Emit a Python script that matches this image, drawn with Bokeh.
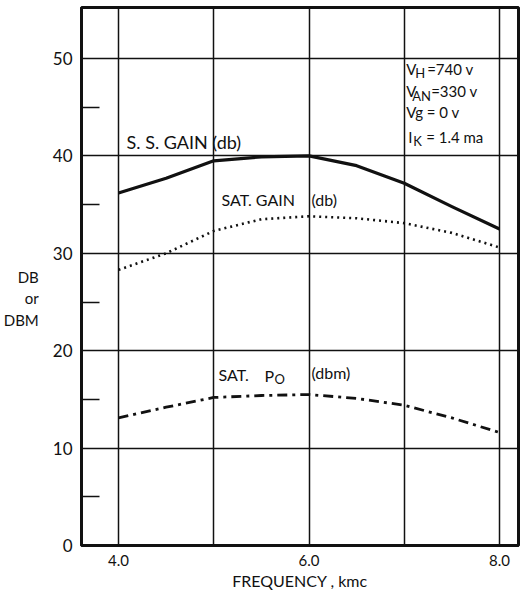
from bokeh.plotting import figure
from bokeh.models import FixedTicker, Range1d, Label
from bokeh.embed import file_html
from bokeh.resources import INLINE

# ---- data ----
freq = [4.0, 4.5, 5.0, 5.5, 6.0, 6.5, 7.0, 7.5, 8.0]
ss_gain = [36.2, 37.7, 39.5, 39.9, 40.0, 39.0, 37.2, 34.8, 32.5]
sat_gain = [28.3, 30.0, 32.3, 33.5, 33.8, 33.6, 33.1, 32.1, 30.6]
sat_po = [13.1, 14.2, 15.2, 15.4, 15.5, 15.1, 14.4, 13.1, 11.6]

x_ticks = [4.0, 6.0, 8.0]
x_tick_labels = ["4.0", "6.0", "8.0"]
x_grid = [4, 5, 6, 7, 8]
y_ticks = [0, 10, 20, 30, 40, 50]
y_tick_labels = ["0", "10", "20", "30", "40", "50"]
y_grid = [10, 20, 30, 40, 50]
y_minor = [5, 15, 25, 35, 45]

FONT = "Lato"
INK = "#111111"

p = figure(frame_width=437, frame_height=538,
           x_range=Range1d(3.6115, 8.1995), y_range=Range1d(0, 55.24),
           output_backend="svg", toolbar_location=None,
           min_border_left=80, min_border_right=3, min_border_top=7,
           min_border_bottom=49)
p.background_fill_color = "white"
p.border_fill_color = "white"
p.outline_line_color = INK
p.outline_line_width = 3

# grids
p.xgrid.ticker = FixedTicker(ticks=x_grid)
p.ygrid.ticker = FixedTicker(ticks=y_grid)
for g in (p.xgrid, p.ygrid):
    g.grid_line_color = INK
    g.grid_line_width = 1.5
    g.grid_line_alpha = 1.0

# x axis
xa = p.xaxis[0]
xa.ticker = FixedTicker(ticks=x_ticks)
xa.major_label_overrides = {t: l for t, l in zip(x_ticks, x_tick_labels)}
xa.major_tick_in = 0
xa.major_tick_out = 0
xa.minor_tick_line_color = None
xa.axis_line_width = 3
xa.axis_line_color = INK
xa.major_label_standoff = 9
xa.major_label_text_font = FONT
xa.major_label_text_font_size = "15px"
xa.major_label_text_color = INK
xa.axis_label = "FREQUENCY , kmc"
xa.axis_label_text_font = FONT
xa.axis_label_text_font_style = "normal"
xa.axis_label_text_font_size = "16px"
xa.axis_label_text_color = INK
xa.axis_label_standoff = 2

# y axis
ya = p.yaxis[0]
ya.ticker = FixedTicker(ticks=y_ticks, minor_ticks=y_minor)
ya.major_label_overrides = {t: l for t, l in zip(y_ticks, y_tick_labels)}
ya.major_tick_in = 0
ya.major_tick_out = 0
ya.minor_tick_in = 18
ya.minor_tick_out = 0
ya.minor_tick_line_width = 1.5
ya.minor_tick_line_color = INK
ya.axis_line_width = 3
ya.axis_line_color = INK
ya.major_label_standoff = 9
ya.major_label_text_font = FONT
ya.major_label_text_font_size = "17px"
ya.major_label_text_color = INK
ya.axis_label = "\n\nDB\nor\nDBM"
ya.axis_label_orientation = "horizontal"
ya.axis_label_text_align = "center"
ya.axis_label_text_font = FONT
ya.axis_label_text_font_style = "normal"
ya.axis_label_text_font_size = "15px"
ya.axis_label_text_color = INK
ya.axis_label_standoff = 11

# curves
p.line(freq, ss_gain, line_color=INK, line_width=3.2, line_join="round")
p.line(freq, sat_gain, line_color=INK, line_width=2.6, line_dash="2 4")
p.line(freq, sat_po, line_color=INK, line_width=2.8, line_dash="10 5 3 5")

def lab(x, y, text, size="16px", align="left", dx=0):
    p.add_layout(Label(x=x, y=y, text=text, text_font=FONT, text_font_size=size,
                       text_color=INK, text_baseline="middle", text_align=align,
                       x_offset=dx))

# curve labels
lab(4.084, 41.48, "S. S. GAIN (db)", size="18px")
lab(5.081, 35.52, "SAT. GAIN")
lab(6.026, 35.52, "(db)")
lab(5.05, 17.56, "SAT.")
lab(5.533, 17.45, "P")
lab(5.533, 17.05, "O", size="13px", dx=10)
lab(6.026, 17.76, "(dbm)")

# operating conditions
cx = 7.02
lab(cx, 48.97, "V", size="15px")
lab(cx, 48.50, "H", size="13px", dx=9)
lab(cx, 48.97, "=740 v", size="15px", dx=21)
lab(cx, 46.71, "V", size="15px")
lab(cx, 46.15, "AN", size="13px", dx=6)
lab(cx, 46.71, "=330 v", size="15px", dx=25)
lab(cx, 44.46, "Vg = 0 v", size="15px")
lab(cx, 41.99, "I", size="15px", dx=2)
lab(cx, 41.55, "K", size="13px", dx=7)
lab(cx, 41.99, "= 1.4 ma", size="15px", dx=20)

open("out.html", "w").write(file_html(p, INLINE))
